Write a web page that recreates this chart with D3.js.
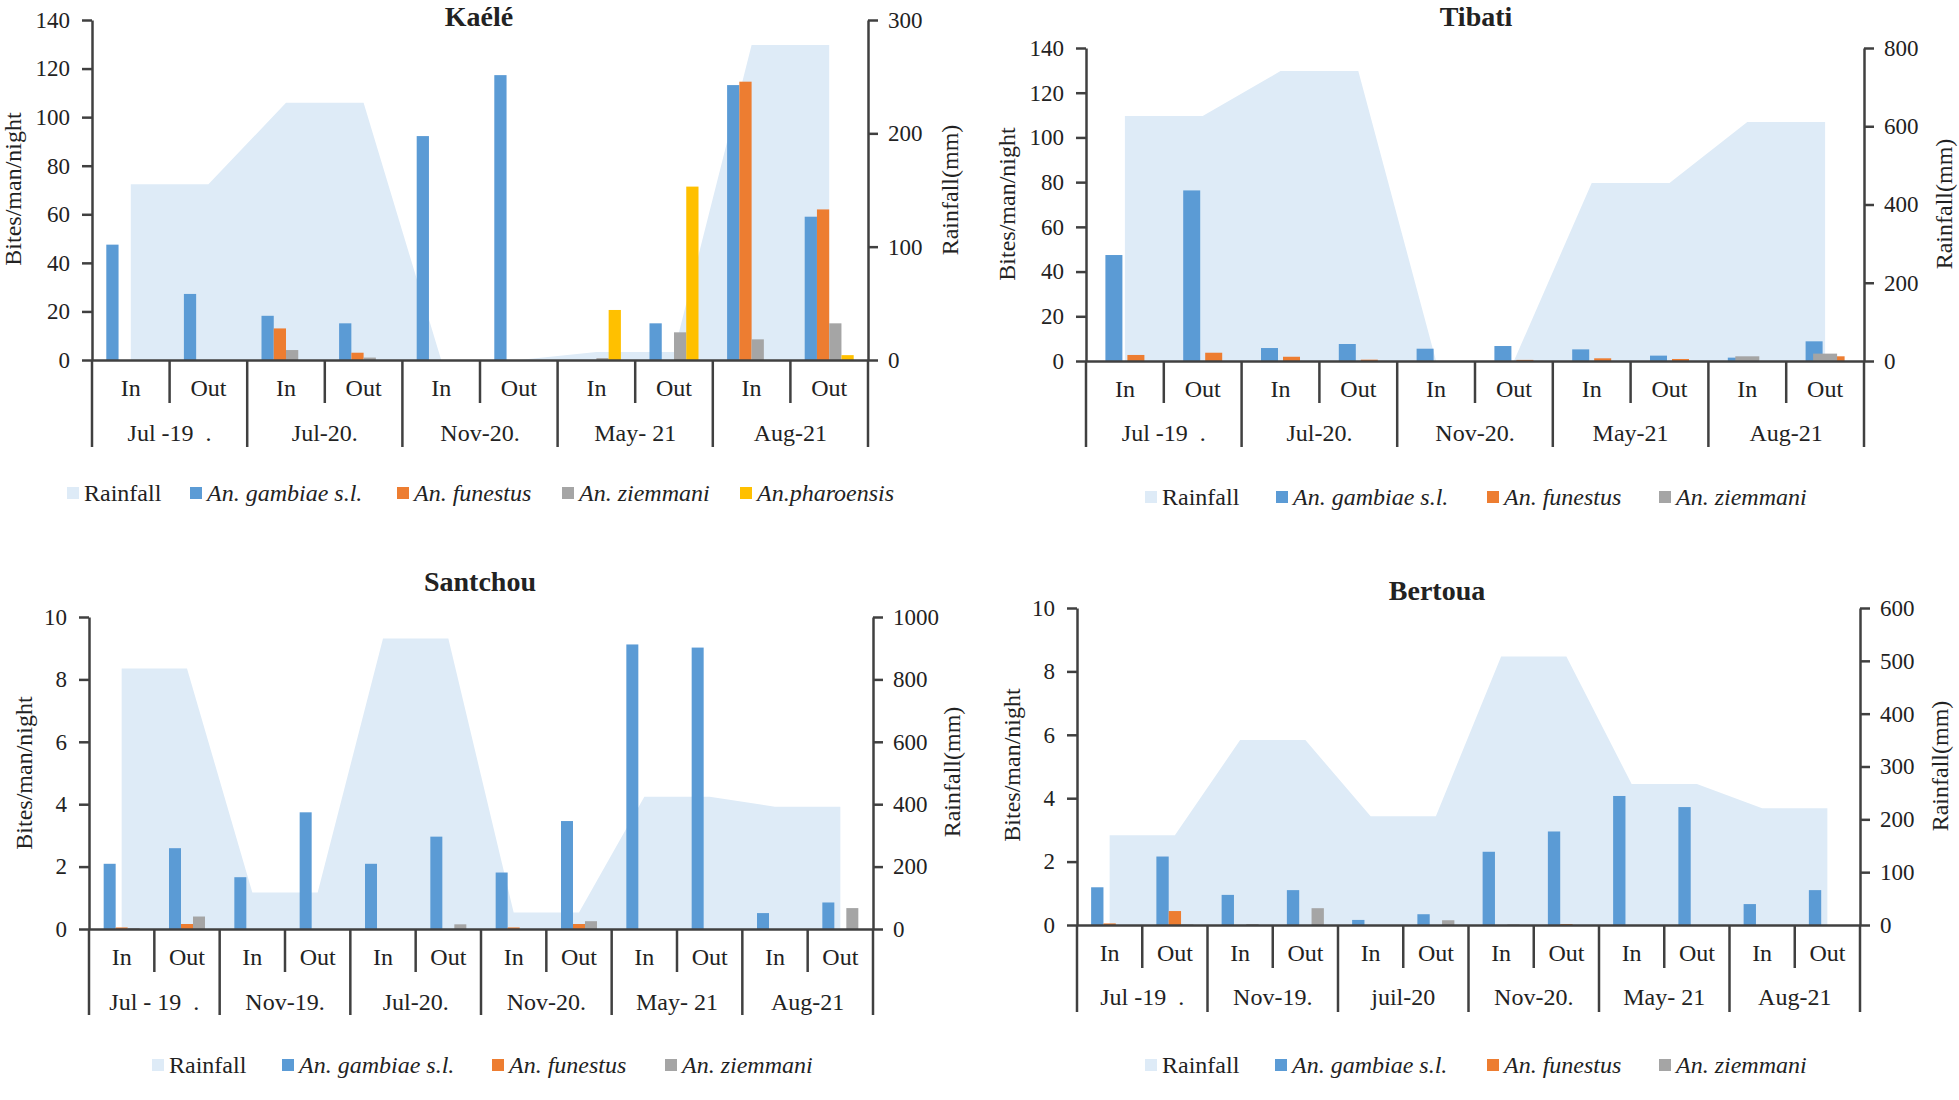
<!DOCTYPE html>
<html><head><meta charset="utf-8">
<script src="https://cdn.jsdelivr.net/npm/d3@7"></script>
<style>
body{margin:0;background:#fff;}
svg text{font-family:"Liberation Serif","Times New Roman",serif;fill:#222;}
</style></head><body>
<svg id="chart" width="1959" height="1100"></svg>
<script>
// ---------- DATA ----------
const positions = ["In", "Out"];
const speciesNames = ["An. gambiae s.l.", "An. funestus", "An. ziemmani", "An.pharoensis"];
const speciesColors = ["#5B9BD5", "#ED7D31", "#A5A5A5", "#FFC000"];
const rainfallLabel = "Rainfall";
const rainfallColor = "#DEEBF7";
const leftAxisTitle = "Bites/man/night";
const rightAxisTitle = "Rainfall(mm)";

// Kaélé
const kaeleMonths = ["Jul -19  .", "Jul-20.", "Nov-20.", "May- 21", "Aug-21"];
const kaeleRainfall = [155, 227, 0, 7, 278];
const kaeleGambiae = [47.5, 27.2, 18.2, 15.1, 92.2, 117.3, 0, 15.1, 113.2, 59];
const kaeleFunestus = [0, 0, 13, 3, 0, 0, 0, 0, 114.6, 62];
const kaeleZiemmani = [0, 0, 4.1, 1, 0, 0, 0.8, 11.4, 8.5, 15.1];
const kaelePharoensis = [0, 0, 0, 0, 0, 0, 20.6, 71.4, 0, 2];
const kaeleLeftTicks = [0, 20, 40, 60, 80, 100, 120, 140];
const kaeleRightTicks = [0, 100, 200, 300];

// Tibati
const tibatiMonths = ["Jul -19  .", "Jul-20.", "Nov-20.", "May-21", "Aug-21"];
const tibatiRainfall = [626, 741, 0, 455, 611];
const tibatiGambiae = [47.4, 76.3, 5.8, 7.6, 5.5, 6.7, 5.2, 2.4, 1.5, 8.8];
const tibatiFunestus = [2.7, 3.7, 1.9, 0.6, 0, 0.5, 1.2, 0.9, 0, 2.1];
const tibatiZiemmani = [0, 0, 0, 0, 0, 0, 0, 0, 2.1, 3.3];
const tibatiLeftTicks = [0, 20, 40, 60, 80, 100, 120, 140];
const tibatiRightTicks = [0, 200, 400, 600, 800];

// Santchou
const santchouMonths = ["Jul - 19  .", "Nov-19.", "Jul-20.", "Nov-20.", "May- 21", "Aug-21"];
const santchouRainfall = [835, 117, 931, 53, 424, 392];
const santchouGambiae = [2.09, 2.59, 1.66, 3.74, 2.09, 2.96, 1.81, 3.46, 9.12, 9.02, 0.51, 0.85];
const santchouFunestus = [0.05, 0.16, 0, 0, 0, 0, 0.05, 0.16, 0, 0, 0, 0];
const santchouZiemmani = [0.03, 0.4, 0, 0, 0, 0.15, 0, 0.25, 0, 0, 0, 0.67];
const santchouLeftTicks = [0, 2, 4, 6, 8, 10];
const santchouRightTicks = [0, 200, 400, 600, 800, 1000];

// Bertoua
const bertouaMonths = ["Jul -19  .", "Nov-19.", "juil-20", "Nov-20.", "May- 21", "Aug-21"];
const bertouaRainfall = [170, 350, 206, 508, 267, 221];
const bertouaGambiae = [1.19, 2.16, 0.95, 1.1, 0.16, 0.34, 2.31, 2.95, 4.07, 3.72, 0.66, 1.1];
const bertouaFunestus = [0.05, 0.44, 0, 0, 0, 0, 0, 0.03, 0, 0, 0, 0];
const bertouaZiemmani = [0, 0.02, 0.03, 0.53, 0, 0.15, 0.02, 0, 0, 0, 0, 0];
const bertouaLeftTicks = [0, 2, 4, 6, 8, 10];
const bertouaRightTicks = [0, 100, 200, 300, 400, 500, 600];

// ---------- PANELS (data + layout) ----------
const panels = [
  { title: "Kaélé", months: kaeleMonths, rain: kaeleRainfall,
    series: [kaeleGambiae, kaeleFunestus, kaeleZiemmani, kaelePharoensis],
    leftTicks: kaeleLeftTicks, rightTicks: kaeleRightTicks,
    L: { left: 92, right: 868, top: 20, base: 360, catY: 388, groupY: 433, innerEnd: 403, groupEnd: 447,
         legendXs: [67, 190, 397, 562, 740], legendY: 493, titleX: 479, titleY: 26, lTitleX: 13, lTitleY: 189, rTitleX: 950, rTitleY: 190,
         cluster: [0, 1, 2, 3], groupW: 49, padIn: 0, overlay: [] } },
  { title: "Tibati", months: tibatiMonths, rain: tibatiRainfall,
    series: [tibatiGambiae, tibatiFunestus, tibatiZiemmani],
    leftTicks: tibatiLeftTicks, rightTicks: tibatiRightTicks,
    L: { left: 1086, right: 1864, top: 48, base: 361, catY: 389, groupY: 433, innerEnd: 403, groupEnd: 447,
         legendXs: [1145, 1276, 1487, 1659], legendY: 497, titleX: 1476, titleY: 26, lTitleX: 1007, lTitleY: 204, rTitleX: 1944, rTitleY: 204,
         cluster: [0, 1], groupW: 39, padIn: 0.227, overlay: [2], overlayW: 24 } },
  { title: "Santchou", months: santchouMonths, rain: santchouRainfall,
    series: [santchouGambiae, santchouFunestus, santchouZiemmani],
    leftTicks: santchouLeftTicks, rightTicks: santchouRightTicks,
    L: { left: 89, right: 873, top: 617, base: 929, catY: 957, groupY: 1002, innerEnd: 972, groupEnd: 1015,
         legendXs: [152, 282, 492, 665], legendY: 1065, titleX: 480, titleY: 591, lTitleX: 24, lTitleY: 773, rTitleX: 952, rTitleY: 772,
         cluster: [0, 1, 2], groupW: 36, padIn: 0, overlay: [] } },
  { title: "Bertoua", months: bertouaMonths, rain: bertouaRainfall,
    series: [bertouaGambiae, bertouaFunestus, bertouaZiemmani],
    leftTicks: bertouaLeftTicks, rightTicks: bertouaRightTicks,
    L: { left: 1077, right: 1860, top: 608, base: 925, catY: 953, groupY: 997, innerEnd: 968, groupEnd: 1012,
         legendXs: [1145, 1275, 1487, 1659], legendY: 1065, titleX: 1437, titleY: 600, lTitleX: 1012, lTitleY: 765, rTitleX: 1940, rTitleY: 766,
         cluster: [0, 1, 2], groupW: 37, padIn: 0, overlay: [] } }
];

const svg = d3.select("#chart");
const axisColor = "#404040";
const fontFam = '"Liberation Serif","Times New Roman",serif';

function styleAxis(sel) {
  sel.attr("font-family", fontFam);
  sel.select(".domain").attr("stroke", axisColor).attr("stroke-width", 2.5);
  sel.selectAll(".tick line").attr("stroke", axisColor).attr("stroke-width", 2.5);
  sel.selectAll(".tick text").attr("font-size", 23).attr("fill", "#222").style("font-family", fontFam);
}

panels.forEach(p => {
  const L = p.L;
  const g = svg.append("g");
  const slots = [];
  p.months.forEach((m, i) => positions.forEach(pos => slots.push({ key: i + "_" + pos, month: i, pos })));

  const x = d3.scaleBand().domain(slots.map(s => s.key)).range([L.left, L.right]).padding(0);
  const yL = d3.scaleLinear().domain([0, d3.max(p.leftTicks)]).range([L.base, L.top]);
  const yR = d3.scaleLinear().domain([0, d3.max(p.rightTicks)]).range([L.base, L.top]);
  const cx = k => x(k) + x.bandwidth() / 2;

  // rainfall area (secondary axis)
  const area = d3.area().x(s => cx(s.key)).y0(L.base).y1(s => yR(p.rain[s.month]));
  g.append("path").datum(slots).attr("d", area).attr("fill", rainfallColor);

  // clustered bars
  const inner = d3.scaleBand().domain(L.cluster).range([-L.groupW / 2, L.groupW / 2]).paddingInner(L.padIn);
  const drawSeries = (si, off, w) => {
    g.append("g").selectAll("rect")
      .data(slots.map((s, i) => ({ s, v: p.series[si][i] })).filter(d => d.v > 0))
      .join("rect")
      .attr("x", d => cx(d.s.key) + off)
      .attr("width", w)
      .attr("y", d => yL(d.v))
      .attr("height", d => L.base - yL(d.v))
      .attr("fill", speciesColors[si]);
  };
  L.cluster.forEach(si => drawSeries(si, inner(si), inner.bandwidth()));
  L.overlay.forEach(si => drawSeries(si, -L.overlayW / 2, L.overlayW));

  // left axis
  const la = g.append("g").attr("transform", `translate(${L.left},0)`)
    .call(d3.axisLeft(yL).tickValues(p.leftTicks).tickFormat(d3.format("d")).tickSize(10).tickPadding(12).tickSizeOuter(0));
  styleAxis(la);
  // right axis
  const ra = g.append("g").attr("transform", `translate(${L.right},0)`)
    .call(d3.axisRight(yR).tickValues(p.rightTicks).tickFormat(d3.format("d")).tickSize(10).tickPadding(10).tickSizeOuter(0));
  styleAxis(ra);

  // category axis
  const ba = g.append("g").attr("transform", `translate(0,${L.base})`)
    .call(d3.axisBottom(x).tickSize(0).tickPadding(0).tickFormat(k => k.split("_")[1]));
  ba.attr("font-family", fontFam);
  ba.select(".domain").attr("stroke", axisColor).attr("stroke-width", 2.5);
  ba.selectAll(".tick text").attr("font-size", 24).attr("fill", "#222")
    .attr("dy", null).attr("y", L.catY - L.base).attr("dominant-baseline", "central")
    .style("font-family", fontFam);

  // separators
  const bounds = [];
  slots.forEach(s => bounds.push({ x: x(s.key), group: s.pos === "In" }));
  bounds.push({ x: L.right, group: true });
  g.append("g").selectAll("line").data(bounds).join("line")
    .attr("x1", d => d.x).attr("x2", d => d.x)
    .attr("y1", L.base).attr("y2", d => d.group ? L.groupEnd : L.innerEnd)
    .attr("stroke", axisColor).attr("stroke-width", 2.5);

  // group labels
  g.append("g").selectAll("text").data(p.months).join("text")
    .attr("x", (m, i) => (x(i + "_In") + x(i + "_Out") + x.bandwidth()) / 2)
    .attr("y", L.groupY).attr("dominant-baseline", "central").attr("text-anchor", "middle")
    .attr("font-size", 24).style("white-space", "pre").text(m => m);

  // titles
  g.append("text").attr("x", L.titleX).attr("y", L.titleY).attr("text-anchor", "middle")
    .attr("font-size", 28).attr("font-weight", "bold").attr("fill", "#111").text(p.title);
  g.append("text").attr("transform", `translate(${L.lTitleX},${L.lTitleY}) rotate(-90)`)
    .attr("text-anchor", "middle").attr("dominant-baseline", "central").attr("font-size", 24).text(leftAxisTitle);
  g.append("text").attr("transform", `translate(${L.rTitleX},${L.rTitleY}) rotate(-90)`)
    .attr("text-anchor", "middle").attr("dominant-baseline", "central").attr("font-size", 24).text(rightAxisTitle);

  // legend
  const items = [{ label: rainfallLabel, color: rainfallColor, italic: false }]
    .concat(p.series.map((s, i) => ({ label: speciesNames[i], color: speciesColors[i], italic: true })));
  const lg = g.append("g");
  items.forEach((it, i) => {
    const lx = L.legendXs[i];
    lg.append("rect").attr("x", lx).attr("y", L.legendY - 6).attr("width", 12).attr("height", 12).attr("fill", it.color);
    lg.append("text").attr("x", lx + 17).attr("y", L.legendY).attr("dominant-baseline", "central")
      .attr("font-size", 24).attr("font-style", it.italic ? "italic" : "normal").text(it.label);
  });
});
</script>
</body></html>
